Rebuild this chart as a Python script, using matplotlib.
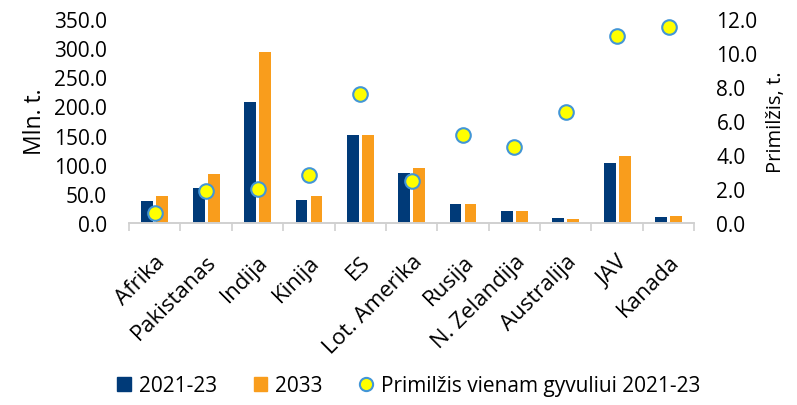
import numpy as np
import matplotlib
matplotlib.use('Agg')
import matplotlib.pyplot as plt
import matplotlib.transforms as mtransforms
from matplotlib.lines import Line2D
from matplotlib.patches import Patch

plt.rcParams['font.family'] = ['Open Sans', 'DejaVu Sans']

categories = ['Afrika', 'Pakistanas', 'Indija', 'Kinija', 'ES', 'Lot. Amerika',
              'Rusija', 'N. Zelandija', 'Australija', 'JAV', 'Kanada']
prod_2021_23 = [38, 60, 208, 39, 151, 86, 32, 21, 8, 103, 11]
prod_2033 = [47, 84, 293, 47, 151, 94, 32, 21, 7, 115, 12.5]
milk_per_cow = [0.6, 1.9, 2.0, 2.8, 7.6, 2.5, 5.2, 4.5, 6.5, 11.0, 11.5]

navy = '#003a78'
orange = '#f99d1c'
dot_face = '#ffff00'
dot_edge = '#4296d6'

fig = plt.figure(figsize=(7.97, 4.06), dpi=100)
ax = fig.add_axes([0.162, 0.448, 0.709, 0.503])
ax2 = ax.twinx()

x = np.arange(len(categories))
w = 0.23
ax.bar(x - 0.146, prod_2021_23, w, color=navy, zorder=2)
ax.bar(x + 0.146, prod_2033, w, color=orange, zorder=2)
ax2.scatter(x, milk_per_cow, s=110, color=dot_face, edgecolors=dot_edge,
            linewidths=1.5, zorder=3)

ax.set_xlim(-0.5, len(categories) - 0.5)
ax.set_ylim(0, 350)
ax2.set_ylim(0, 12)
ax.set_yticks(np.arange(0, 351, 50))
ax.set_yticklabels(['%.1f' % v for v in np.arange(0, 351, 50)])
ax2.set_yticks(np.arange(0, 12.1, 2))
ax2.set_yticklabels(['%.1f' % v for v in np.arange(0, 12.1, 2)])

ax.set_xticks(x)
ax.set_xticklabels(categories, rotation=45, ha='right', rotation_mode='anchor',
                   fontsize=16, color='#000000')
shift = mtransforms.ScaledTranslation(5 / 100, 0, fig.dpi_scale_trans)
for lab in ax.get_xticklabels():
    lab.set_transform(lab.get_transform() + shift)
ax.set_xticks(np.arange(-0.5, len(categories)), minor=True)
ax.tick_params(axis='x', which='major', length=0, pad=20)
ax.tick_params(axis='x', which='minor', length=6, color='#d0d0d0', width=1.2)

for a in (ax, ax2):
    for s in ('top', 'left', 'right'):
        a.spines[s].set_visible(False)
    a.spines['bottom'].set_color('#d0d0d0')
    a.spines['bottom'].set_linewidth(1.2)
    a.tick_params(axis='y', length=0, labelsize=15)
    a.patch.set_visible(False)
ax.tick_params(axis='y', pad=16)
ax2.tick_params(axis='y', pad=16)

ax.set_ylabel('Mln. t.', fontsize=16.5, labelpad=5)
ax2.set_ylabel('Primilžis, t.', fontsize=14.5, labelpad=6)

handles = [Patch(color=navy, label='2021-23'),
           Patch(color=orange, label='2033'),
           Line2D([], [], marker='o', linestyle='none', markersize=9.5,
                  markerfacecolor=dot_face, markeredgecolor=dot_edge,
                  markeredgewidth=1.5, label='Primilžis vienam gyvuliui 2021-23')]
fig.legend(handles=handles, loc='center', bbox_to_anchor=(0.513, 0.047), ncol=3,
           frameon=False, fontsize=15, handlelength=0.65, handleheight=0.65,
           handletextpad=0.4, columnspacing=1.75)

fig.savefig('out.png', dpi=100)
